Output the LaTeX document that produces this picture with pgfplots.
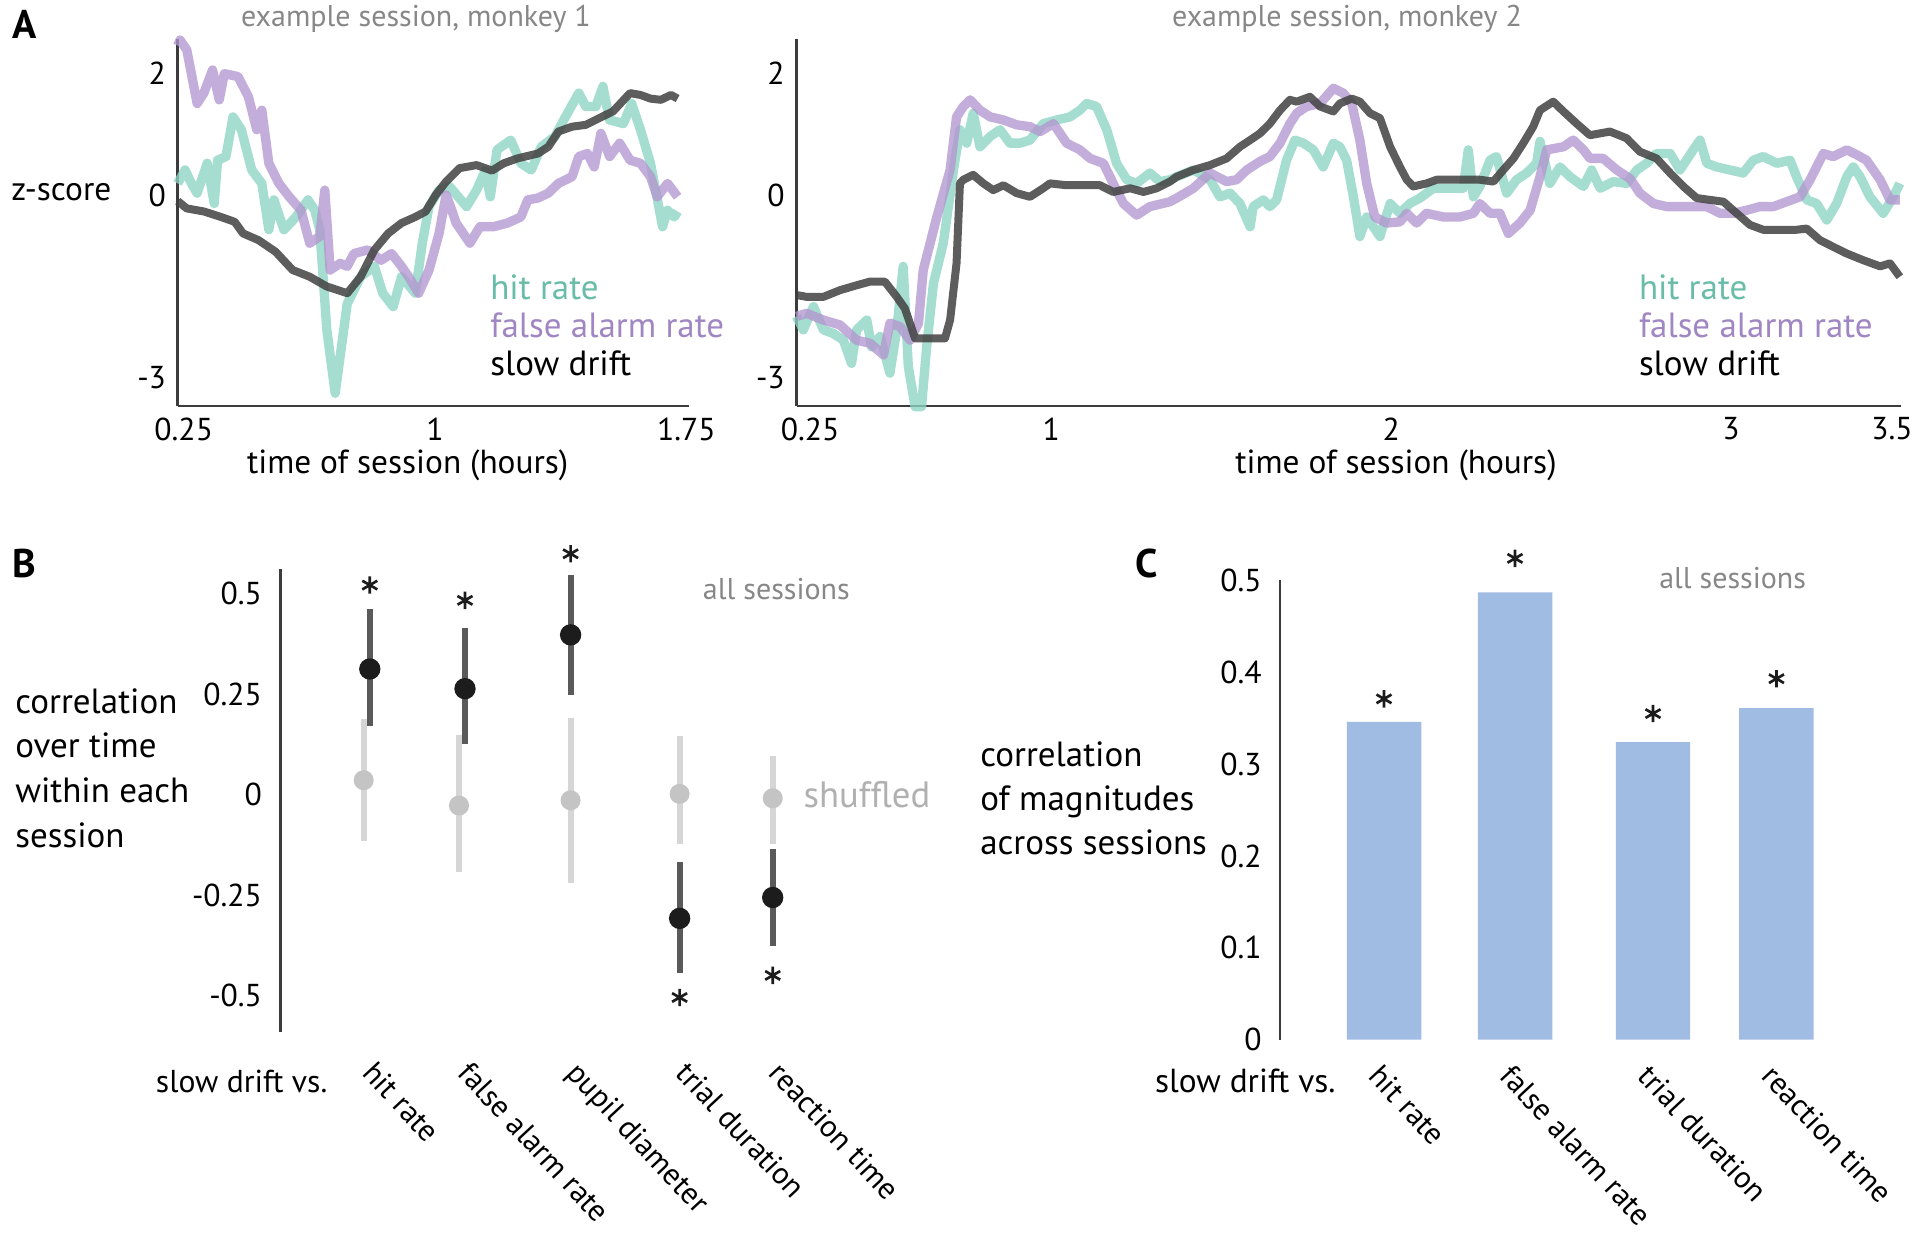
\documentclass[border=0pt]{standalone}
\usepackage{fontspec}
\setmainfont{PT Sans}
\usepackage{pgfplots}
\pgfplotsset{compat=1.18}

\definecolor{hitc}{RGB}{140,212,196}
\definecolor{fac}{RGB}{178,150,208}
\definecolor{driftc}{RGB}{65,65,65}
\definecolor{hittxt}{RGB}{105,188,168}
\definecolor{fatxt}{RGB}{160,135,195}
\definecolor{ttl}{RGB}{135,135,135}
\definecolor{axc}{RGB}{60,60,60}
\definecolor{barc}{RGB}{160,188,227}
\definecolor{shufc}{RGB}{196,196,196}
\definecolor{shufbar}{RGB}{214,214,214}
\definecolor{realc}{RGB}{28,28,28}
\definecolor{realbar}{RGB}{90,90,90}

\newcommand{\tk}{\fontsize{9.5}{11}\selectfont}
\newcommand{\lb}{\fontsize{10}{12}\selectfont}
\newcommand{\rl}{\fontsize{9.2}{11}\selectfont}

\pgfplotsset{
  base/.style={scale only axis, clip=false, axis lines*=left,
    axis line style={axc, line width=0.8pt}, major tick length=0pt,
    tick label style={font=\tk, text=black}},
  hitl/.style={hitc, line width=2.8pt, opacity=0.78, line join=round},
  fal/.style={fac, line width=2.8pt, opacity=0.78, line join=round},
  drl/.style={driftc, line width=2.4pt, opacity=0.85, line join=round},
}

\begin{document}
\begin{tikzpicture}
\useasboundingbox (0,0) rectangle (576pt,-369.9pt);

% ---- A, monkey 1
\begin{axis}[base, at={(53.31pt,-11.7pt)}, anchor=north west,
  width=153.3pt, height=110.1pt,
  xmin=0.232, xmax=1.757, ymin=-3.459, ymax=2.557,
  xtick={0.25,1,1.75}, xticklabels={0.25,1,1.75},
  ytick={-3,0,2}, yticklabels={-3,0,2}]
\addplot[hitl] coordinates {(0.232,0.19) (0.254,0.41) (0.272,0.20) (0.290,0.03) (0.320,0.52) (0.341,-0.14) (0.351,0.57) (0.376,0.63) (0.397,1.28) (0.422,1.07) (0.453,0.41) (0.483,0.19) (0.504,-0.57) (0.519,-0.08) (0.549,-0.57) (0.585,-0.36) (0.621,-0.08) (0.641,-0.25) (0.656,-0.57) (0.677,-2.21) (0.702,-3.25) (0.738,-1.78) (0.778,-1.34) (0.819,-1.17) (0.844,-1.61) (0.875,-1.83) (0.900,-1.34) (0.941,-1.61) (0.962,-0.79) (0.982,-0.19) (1.012,0.08) (1.043,0.14) (1.094,-0.19) (1.124,0.08) (1.150,0.40) (1.165,-0.03) (1.185,0.74) (1.226,0.90) (1.256,0.52) (1.287,0.41) (1.317,0.79) (1.358,0.96) (1.389,1.28) (1.429,1.67) (1.450,1.45) (1.480,1.45) (1.501,1.78) (1.521,1.23) (1.562,1.17) (1.587,1.50) (1.613,1.07) (1.643,0.52) (1.679,-0.52) (1.694,-0.25) (1.714,-0.36) (1.724,-0.27)};
\addplot[fal] coordinates {(0.232,2.45) (0.239,2.54) (0.259,2.38) (0.290,1.50) (0.310,1.67) (0.336,2.05) (0.356,1.56) (0.371,1.99) (0.412,1.94) (0.443,1.61) (0.468,1.07) (0.483,1.39) (0.504,0.52) (0.534,0.19) (0.565,-0.03) (0.600,-0.25) (0.626,-0.79) (0.656,-0.68) (0.671,0.08) (0.687,-1.23) (0.717,-1.12) (0.738,-1.17) (0.758,-0.96) (0.799,-0.90) (0.839,-1.07) (0.870,-0.96) (0.900,-1.17) (0.921,-1.34) (0.951,-1.61) (0.982,-1.23) (1.012,-0.63) (1.033,0.00) (1.050,-0.25) (1.063,-0.46) (1.104,-0.79) (1.134,-0.52) (1.175,-0.52) (1.216,-0.46) (1.256,-0.36) (1.277,-0.08) (1.307,-0.05) (1.338,0.03) (1.368,0.19) (1.409,0.30) (1.429,0.63) (1.455,0.68) (1.475,0.46) (1.495,1.01) (1.521,0.63) (1.551,0.85) (1.582,0.57) (1.613,0.52) (1.643,0.30) (1.663,-0.03) (1.694,0.19) (1.724,-0.03)};
\addplot[drl] coordinates {(0.232,-0.10) (0.259,-0.22) (0.310,-0.27) (0.361,-0.36) (0.402,-0.44) (0.427,-0.63) (0.473,-0.74) (0.524,-0.93) (0.575,-1.23) (0.626,-1.34) (0.677,-1.50) (0.738,-1.61) (0.778,-1.34) (0.819,-0.90) (0.860,-0.63) (0.900,-0.46) (0.941,-0.36) (0.972,-0.27) (1.002,0.00) (1.033,0.22) (1.073,0.44) (1.124,0.49) (1.170,0.40) (1.205,0.52) (1.246,0.60) (1.307,0.68) (1.338,0.79) (1.368,1.04) (1.409,1.12) (1.450,1.15) (1.490,1.26) (1.531,1.37) (1.582,1.67) (1.613,1.64) (1.643,1.58) (1.674,1.56) (1.704,1.64) (1.724,1.58)};
\end{axis}

% ---- A, monkey 2
\begin{axis}[base, at={(238.95pt,-11.7pt)}, anchor=north west,
  width=331.3pt, height=110.1pt,
  xmin=0.25, xmax=3.5, ymin=-3.459, ymax=2.557,
  xtick={0.29,1,2,3,3.474}, xticklabels={0.25,1,2,3,3.5},
  ytick={-3,0,2}, yticklabels={-3,0,2}]
\addplot[hitl] coordinates {(0.25,-1.99) (0.270,-2.21) (0.300,-1.83) (0.329,-2.21) (0.358,-2.27) (0.388,-2.38) (0.412,-2.76) (0.427,-2.21) (0.457,-2.05) (0.471,-2.49) (0.496,-2.32) (0.525,-2.92) (0.545,-2.21) (0.564,-1.17) (0.579,-2.81) (0.599,-3.47) (0.618,-3.47) (0.633,-2.49) (0.653,-1.45) (0.682,-0.79) (0.712,0.41) (0.731,1.07) (0.751,0.85) (0.770,1.34) (0.790,0.79) (0.820,0.96) (0.849,1.07) (0.878,0.85) (0.908,0.85) (0.937,0.90) (0.976,1.17) (1.016,1.23) (1.055,1.28) (1.084,1.39) (1.104,1.50) (1.133,1.45) (1.163,1.07) (1.192,0.52) (1.222,0.25) (1.251,0.19) (1.290,0.36) (1.320,0.22) (1.349,0.25) (1.369,0.30) (1.418,0.41) (1.467,0.25) (1.496,-0.03) (1.526,0.03) (1.555,-0.14) (1.585,-0.52) (1.594,-0.19) (1.624,-0.08) (1.643,-0.19) (1.663,-0.08) (1.692,0.57) (1.717,0.90) (1.742,0.85) (1.771,0.74) (1.800,0.46) (1.830,0.85) (1.849,0.79) (1.869,0.57) (1.889,-0.03) (1.908,-0.68) (1.928,-0.36) (1.967,-0.68) (1.997,-0.14) (2.026,-0.30) (2.055,-0.14) (2.085,-0.05) (2.124,0.11) (2.173,0.11) (2.212,0.11) (2.227,0.74) (2.242,-0.03) (2.261,0.14) (2.291,0.57) (2.310,0.63) (2.340,0.03) (2.369,0.25) (2.399,0.36) (2.428,0.52) (2.438,0.88) (2.467,0.19) (2.497,0.46) (2.526,0.30) (2.566,0.14) (2.590,0.41) (2.615,0.11) (2.654,0.22) (2.693,0.19) (2.723,0.41) (2.752,0.52) (2.781,0.68) (2.821,0.68) (2.850,0.41) (2.889,0.74) (2.909,0.90) (2.929,0.52) (2.958,0.46) (2.997,0.41) (3.036,0.36) (3.066,0.57) (3.095,0.63) (3.135,0.52) (3.174,0.57) (3.193,0.30) (3.223,-0.08) (3.252,-0.14) (3.282,-0.41) (3.311,-0.14) (3.341,0.30) (3.360,0.46) (3.380,0.30) (3.409,-0.03) (3.448,-0.30) (3.478,-0.03) (3.497,0.19)};
\addplot[fal] coordinates {(0.25,-1.99) (0.280,-1.94) (0.329,-2.05) (0.378,-2.13) (0.427,-2.38) (0.466,-2.43) (0.506,-2.62) (0.525,-2.10) (0.555,-2.16) (0.584,-2.38) (0.609,-2.10) (0.623,-1.23) (0.663,-0.36) (0.702,0.41) (0.721,1.28) (0.741,1.45) (0.761,1.56) (0.790,1.39) (0.820,1.28) (0.859,1.23) (0.898,1.15) (0.937,1.12) (0.967,1.04) (1.006,1.17) (1.045,0.85) (1.084,0.74) (1.114,0.60) (1.153,0.52) (1.182,0.19) (1.212,-0.14) (1.251,-0.33) (1.290,-0.19) (1.349,-0.11) (1.369,-0.05) (1.418,0.11) (1.467,0.36) (1.516,0.22) (1.545,0.25) (1.575,0.41) (1.614,0.55) (1.643,0.63) (1.673,0.85) (1.702,1.17) (1.722,1.34) (1.751,1.45) (1.791,1.50) (1.830,1.75) (1.859,1.67) (1.884,1.50) (1.908,0.90) (1.928,0.19) (1.952,-0.36) (1.987,-0.46) (2.026,-0.44) (2.046,-0.30) (2.075,-0.46) (2.104,-0.30) (2.154,-0.36) (2.203,-0.36) (2.242,-0.30) (2.261,-0.14) (2.291,-0.30) (2.320,-0.30) (2.345,-0.63) (2.379,-0.46) (2.409,-0.25) (2.438,0.30) (2.458,0.74) (2.507,0.79) (2.536,0.90) (2.566,0.74) (2.585,0.60) (2.624,0.60) (2.664,0.41) (2.703,0.27) (2.732,0.03) (2.772,-0.14) (2.811,-0.19) (2.850,-0.19) (2.889,-0.19) (2.929,-0.19) (2.968,-0.30) (3.007,-0.30) (3.046,-0.25) (3.085,-0.19) (3.125,-0.19) (3.164,-0.11) (3.203,-0.03) (3.233,0.25) (3.272,0.68) (3.301,0.63) (3.341,0.74) (3.370,0.66) (3.399,0.57) (3.439,0.25) (3.468,-0.08) (3.497,-0.08)};
\addplot[drl] coordinates {(0.25,-1.64) (0.280,-1.67) (0.329,-1.67) (0.378,-1.56) (0.427,-1.48) (0.466,-1.42) (0.510,-1.42) (0.545,-1.67) (0.569,-1.86) (0.599,-2.35) (0.643,-2.35) (0.687,-2.35) (0.702,-2.05) (0.721,-1.12) (0.731,0.19) (0.741,0.25) (0.770,0.33) (0.800,0.19) (0.829,0.08) (0.859,0.16) (0.898,0.03) (0.937,-0.03) (0.976,0.11) (0.996,0.19) (1.045,0.16) (1.094,0.16) (1.143,0.16) (1.182,0.05) (1.232,0.11) (1.271,0.05) (1.310,0.11) (1.349,0.22) (1.369,0.30) (1.418,0.41) (1.467,0.49) (1.516,0.60) (1.555,0.79) (1.585,0.90) (1.614,1.01) (1.643,1.17) (1.673,1.39) (1.702,1.56) (1.722,1.53) (1.761,1.61) (1.791,1.45) (1.830,1.37) (1.849,1.50) (1.884,1.58) (1.908,1.53) (1.938,1.34) (1.967,1.26) (1.997,0.79) (2.026,0.46) (2.046,0.25) (2.065,0.14) (2.104,0.19) (2.134,0.25) (2.203,0.25) (2.261,0.25) (2.301,0.22) (2.330,0.41) (2.360,0.60) (2.389,0.85) (2.418,1.12) (2.438,1.39) (2.477,1.53) (2.507,1.37) (2.546,1.17) (2.585,0.98) (2.644,1.04) (2.693,0.93) (2.732,0.71) (2.781,0.60) (2.821,0.36) (2.860,0.14) (2.899,-0.05) (2.938,-0.08) (2.978,-0.11) (3.017,-0.30) (3.056,-0.49) (3.095,-0.57) (3.154,-0.57) (3.193,-0.57) (3.223,-0.55) (3.262,-0.74) (3.301,-0.85) (3.341,-0.96) (3.390,-1.07) (3.439,-1.17) (3.468,-1.12) (3.497,-1.34)};
\end{axis}

% ---- B
\begin{axis}[base, at={(84.12pt,-170.82pt)}, anchor=north west,
  width=149.88pt, height=138.9pt,
  xmin=2.804, xmax=7.80, ymin=-0.592, ymax=0.561,
  x axis line style={draw=none},
  ytick={-0.5,-0.25,0,0.25,0.5}, yticklabels={-0.5,-0.25,0,0.25,0.5},
  yticklabel style={xshift=-2pt},
  xtick={3.67,4.62,5.71,6.80,7.73},
  xticklabels={hit rate,false alarm rate,pupil diameter,trial duration,reaction time},
  xticklabel style={xshift=3.3pt, yshift=-3.2pt, rotate=-47, anchor=north west, font=\rl}]
\addplot[shufc, only marks, mark=*, mark size=2.8pt, mark options={fill=shufc, draw=none},
  error bars/.cd, y dir=both, y explicit, error mark=none,
  error bar style={line width=1.8pt, shufbar}]
  coordinates {(3.637,0.036) += (0,0.153) -= (0,0.151) (4.590,-0.027) += (0,0.175) -= (0,0.165) (5.706,-0.014) += (0,0.206) -= (0,0.206) (6.796,0.002) += (0,0.143) -= (0,0.126) (7.727,-0.009) += (0,0.106) -= (0,0.115)};
\addplot[realc, only marks, mark=*, mark size=3pt, mark options={fill=realc, draw=none},
  error bars/.cd, y dir=both, y explicit, error mark=none,
  error bar style={line width=1.8pt, realbar}]
  coordinates {(3.698,0.313) += (0,0.149) -= (0,0.143) (4.650,0.264) += (0,0.151) -= (0,0.138) (5.706,0.398) += (0,0.149) -= (0,0.149) (6.796,-0.308) += (0,0.141) -= (0,0.137) (7.727,-0.256) += (0,0.122) -= (0,0.121)};
\addplot[realc, only marks, mark=asterisk, mark size=2.6pt, mark options={line width=0.8pt}]
  coordinates {(3.698,0.522) (4.650,0.484) (5.706,0.600) (6.796,-0.505) (7.727,-0.450)};
\end{axis}

% ---- C
\begin{axis}[base, at={(384pt,-174.12pt)}, anchor=north west,
  width=171pt, height=137.76pt,
  xmin=12.80, xmax=18.50, ymin=0, ymax=0.5,
  x axis line style={draw=none},
  ytick={0,0.1,0.2,0.3,0.4,0.5}, yticklabels={0,0.1,0.2,0.3,0.4,0.5},
  yticklabel style={xshift=-2pt},
  xtick={13.84,15.15,16.53,17.765},
  xticklabels={hit rate,false alarm rate,trial duration,reaction time},
  xticklabel style={xshift=0pt, yshift=-2pt, rotate=-47, anchor=north west, font=\rl}]
\addplot[ybar, bar width=0.745, fill=barc, draw=none]
  coordinates {(13.84,0.346) (15.15,0.487) (16.53,0.324) (17.765,0.361)};
\addplot[realc, only marks, mark=asterisk, mark size=2.6pt, mark options={line width=0.8pt}]
  coordinates {(13.84,0.371) (15.15,0.524) (16.53,0.355) (17.765,0.393)};
\end{axis}

% ---- text
\node[font=\bfseries\fontsize{12}{14}\selectfont] at (7.3pt,-7.3pt) {A};
\node[font=\bfseries\fontsize{12}{14}\selectfont] at (7.3pt,-169pt) {B};
\node[font=\bfseries\fontsize{12}{14}\selectfont] at (344pt,-169pt) {C};
\node[font=\fontsize{9}{11}\selectfont, text=ttl] at (124.8pt,-5.6pt) {example session, monkey 1};
\node[font=\fontsize{9}{11}\selectfont, text=ttl] at (404.1pt,-5.6pt) {example session, monkey 2};
\node[font=\lb] at (18.4pt,-57.7pt) {z-score};
\node[font=\lb] at (122.3pt,-139.6pt) {time of session (hours)};
\node[font=\lb] at (418.8pt,-139.6pt) {time of session (hours)};
\foreach \xx in {146.9pt,491.5pt}{
  \node[font=\fontsize{10.5}{12}\selectfont, text=hittxt, anchor=west, inner sep=0pt] at (\xx,-86.3pt) {hit rate};
  \node[font=\fontsize{10.5}{12}\selectfont, text=fatxt, anchor=west, inner sep=0pt] at (\xx,-97.7pt) {false alarm rate};
  \node[font=\fontsize{10.5}{12}\selectfont, text=black, anchor=west, inner sep=0pt] at (\xx,-109.1pt) {slow drift};
}
\node[font=\fontsize{10.5}{13.4}\selectfont, align=left, anchor=west, inner sep=0pt] at (4.4pt,-230.4pt) {correlation\\over time\\within each\\session};
\node[font=\fontsize{10.5}{13.2}\selectfont, align=left, anchor=west, inner sep=0pt] at (293.9pt,-239.5pt) {correlation\\of magnitudes\\across sessions};
\node[font=\fontsize{9.5}{11}\selectfont] at (72.5pt,-324.4pt) {slow drift vs.};
\node[font=\lb] at (373.6pt,-324.4pt) {slow drift vs.};
\node[font=\fontsize{9}{11}\selectfont, text=ttl] at (232.9pt,-176.7pt) {all sessions};
\node[font=\fontsize{9}{11}\selectfont, text=ttl] at (519.8pt,-173.4pt) {all sessions};
\node[font=\fontsize{11}{13}\selectfont, text=shufc!90!black] at (260.1pt,-238.4pt) {shuffled};
\end{tikzpicture}
\end{document}
